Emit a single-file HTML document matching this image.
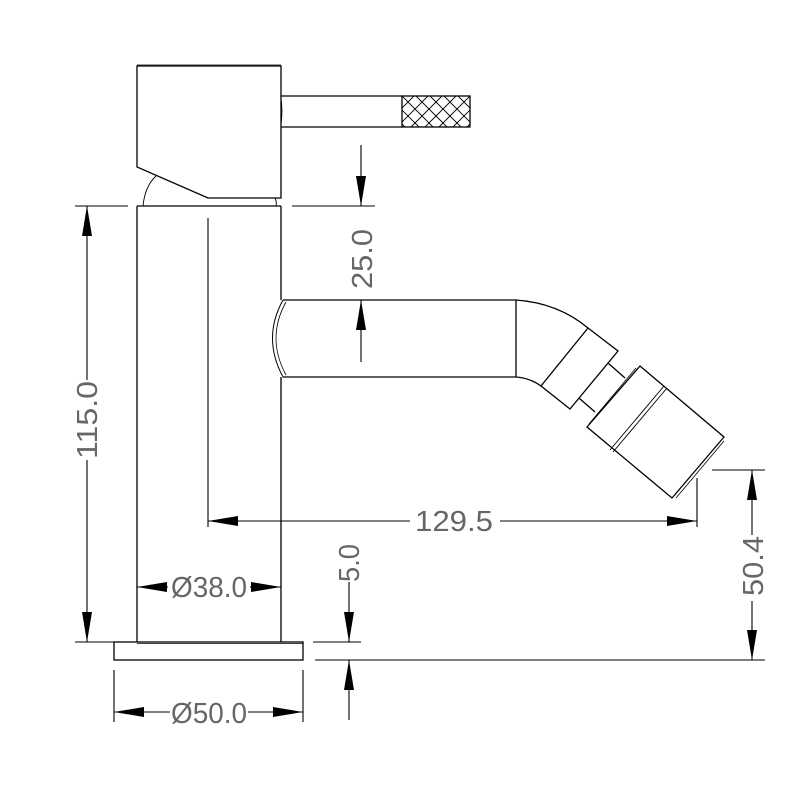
<!DOCTYPE html>
<html><head><meta charset="utf-8"><style>html,body{margin:0;padding:0;background:#fff}</style></head>
<body>
<svg width="800" height="800" viewBox="0 0 800 800" xmlns="http://www.w3.org/2000/svg">
<defs>
<marker id="a" viewBox="0 0 30 10" refX="30" refY="5" markerWidth="30" markerHeight="10" markerUnits="userSpaceOnUse" orient="auto"><path d="M0,0 L30,5 L0,10 Z" fill="#000"/></marker>
<clipPath id="k"><rect x="402" y="96" width="68" height="31"/></clipPath>
</defs>
<g fill="none" stroke="#000" stroke-width="1.3">
<path d="M137,66 H281 V198 H208 L137,167 Z"/>
<line x1="137" y1="65" x2="281" y2="65" stroke-width="0.8"/>
<path d="M281,96 H402 M281,127 H402"/>
<rect x="402" y="96" width="68" height="31"/>
<g clip-path="url(#k)" stroke-width="0.9">
<path d="M374,96 l31,31 M388,96 l31,31 M402,96 l31,31 M416,96 l31,31 M430,96 l31,31 M444,96 l31,31 M458,96 l31,31"/>
<path d="M414,96 l-31,31 M428,96 l-31,31 M442,96 l-31,31 M456,96 l-31,31 M470,96 l-31,31 M484,96 l-31,31 M498,96 l-31,31"/>
</g>
<path d="M143,206 Q145,186 156,176" stroke-width="0.9"/>
<path d="M275,198 Q277,202 276,206" stroke-width="0.9"/>
<path d="M281,98 Q283,111 281,125" stroke-width="0.7"/>
<path d="M137,206 H281 M137,206 V642 M281,206 V300 M281,377 V642"/>
<rect x="114" y="642" width="189" height="18"/>
<line x1="137" y1="643.5" x2="303" y2="643.5" stroke-width="0.7"/>
<path d="M283,300 H516 M283,377 H516 M516,300 V377"/>
<path d="M283,300 Q262,338 283,377" stroke-width="1"/>
<path d="M286,302 Q266,338 286,375" stroke-width="0.8"/>
<path d="M516,300 Q558,303 588,328 M516,377 Q530,378 541,386"/>
<path d="M588,328 L618,351 L570,409 L541,386 Z"/>
<path d="M608,363 L625,378 M579,398 L595,412"/>
<path d="M640,366 L724,437 L672,498 L587,427 Z"/>
<path d="M636,368 L589,424" stroke-width="0.8"/>
<path d="M667,388 L613,452 M664,386 L610,450" stroke-width="0.9"/>
<path d="M724,441 L676,498" stroke-width="0.8"/>
<g stroke-width="1.1">
<path d="M75,206 H128 M75,642 H128"/>
<line x1="87" y1="440" x2="87" y2="206" marker-end="url(#a)"/>
<line x1="87" y1="400" x2="87" y2="642" marker-end="url(#a)"/>
<path d="M292,206 H375"/>
<line x1="361" y1="145" x2="361" y2="206" marker-end="url(#a)"/>
<line x1="361" y1="362" x2="361" y2="300" marker-end="url(#a)"/>
<path d="M208,218 V527 M697,478 V527"/>
<line x1="410" y1="521" x2="208" y2="521" marker-end="url(#a)"/>
<line x1="500" y1="521" x2="697" y2="521" marker-end="url(#a)"/>
<path d="M712,470 H765 M315,660 H765"/>
<line x1="752" y1="540" x2="752" y2="470" marker-end="url(#a)"/>
<line x1="752" y1="600" x2="752" y2="660" marker-end="url(#a)"/>
<path d="M313,642 H361"/>
<line x1="349" y1="582" x2="349" y2="642" marker-end="url(#a)"/>
<line x1="349" y1="720" x2="349" y2="660" marker-end="url(#a)"/>
<line x1="168" y1="587" x2="137" y2="587" marker-end="url(#a)"/>
<line x1="250" y1="587" x2="281" y2="587" marker-end="url(#a)"/>
<path d="M114,670 V722 M303,670 V722"/>
<line x1="170" y1="712" x2="114" y2="712" marker-end="url(#a)"/>
<line x1="248" y1="712" x2="303" y2="712" marker-end="url(#a)"/>
</g>
</g>
<g font-family="Liberation Sans, sans-serif" font-size="29" fill="#666" text-anchor="middle">
<rect x="72" y="380" width="28" height="80" fill="#fff"/>
<text transform="translate(97,420) rotate(-90)" textLength="78" lengthAdjust="spacingAndGlyphs">115.0</text>
<text transform="translate(372,259) rotate(-90)" textLength="60" lengthAdjust="spacingAndGlyphs">25.0</text>
<rect x="412" y="506" width="84" height="28" fill="#fff"/>
<text x="454" y="531" textLength="78" lengthAdjust="spacingAndGlyphs">129.5</text>
<rect x="738" y="535" width="26" height="66" fill="#fff"/>
<text transform="translate(763,566) rotate(-90)" textLength="60" lengthAdjust="spacingAndGlyphs">50.4</text>
<text transform="translate(359,563) rotate(-90)" textLength="38" lengthAdjust="spacingAndGlyphs">5.0</text>
<text x="209" y="597" textLength="76" lengthAdjust="spacingAndGlyphs">Ø38.0</text>
<text x="209" y="723" textLength="76" lengthAdjust="spacingAndGlyphs">Ø50.0</text>
</g>
</svg>
</body></html>
